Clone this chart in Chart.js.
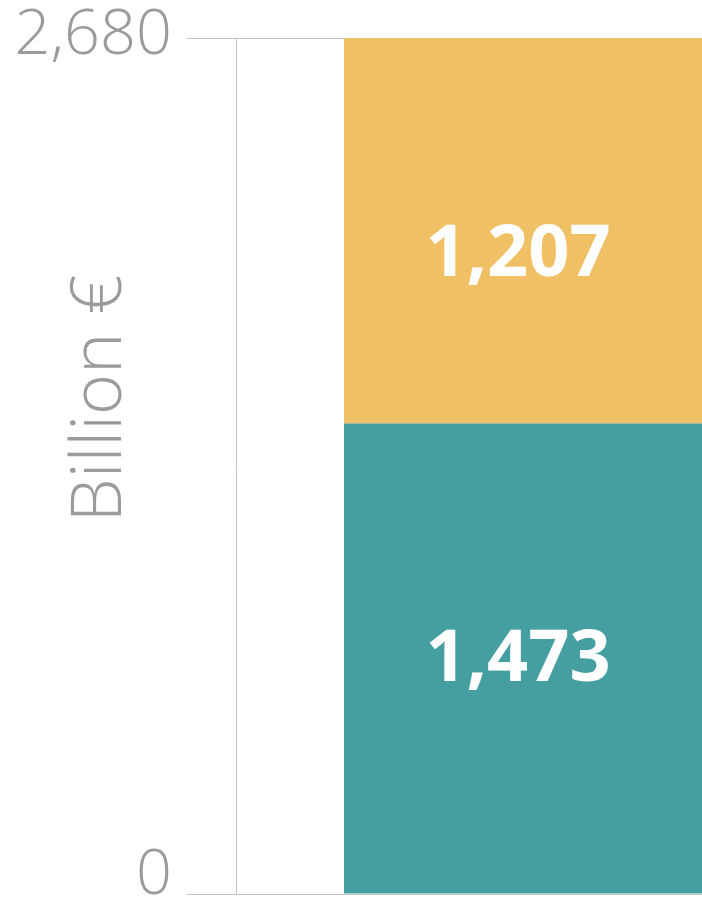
<!DOCTYPE html>
<html><head><meta charset="utf-8">
<script src="https://cdn.jsdelivr.net/npm/chart.js@4/dist/chart.umd.min.js"></script>
<style>
html,body{margin:0;padding:0;background:#fff;overflow:hidden;}
#wrap{width:1100px;height:900px;position:relative;}
</style></head><body>
<div id="wrap"><canvas id="c"></canvas></div>
<script>
// ---- data ----
const categories = ['Total'];
const seriesNames = ['Part 1', 'Part 2'];
const lowerValues = [1473];
const upperValues = [1207];
const yTicks = [0, 2680];
const yAxisTitle = 'Billion €';

// ---- styles ----
const TEAL = '#459EA0';
const YELLOW = '#F0C164';
const GREY_TEXT = '#9b9b9b';
const GRID = '#c4c4c4';
const LABEL_INSET = 174;

const fmt = v => Number(v).toLocaleString('en-US');

const valueLabels = {
  id: 'valueLabels',
  afterDatasetsDraw(chart) {
    const ctx = chart.ctx;
    chart.data.datasets.forEach((ds, di) => {
      const meta = chart.getDatasetMeta(di);
      meta.data.forEach((bar, i) => {
        const p = bar.getProps(['x', 'y', 'base', 'width'], true);
        const left = p.x - p.width / 2;
        ctx.save();
        ctx.font = 'bold 72px "Open Sans"';
        ctx.fillStyle = '#ffffff';
        ctx.textAlign = 'center';
        ctx.textBaseline = 'middle';
        ctx.fillText(fmt(ds.data[i]), left + LABEL_INSET, (p.y + p.base) / 2 + (ds.labelShift || 0));
        ctx.restore();
      });
    });
  }
};

const axisTitle = {
  id: 'axisTitle',
  afterDraw(chart) {
    const s = chart.scales.y;
    const ctx = chart.ctx;
    ctx.save();
    ctx.translate(101.5, s.top + (s.bottom - s.top) * 0.421);
    ctx.rotate(-Math.PI / 2);
    ctx.font = '300 70px "Open Sans"';
    ctx.fillStyle = GREY_TEXT;
    ctx.textAlign = 'center';
    ctx.textBaseline = 'middle';
    ctx.fillText(yAxisTitle, 0, 0);
    ctx.restore();
  }
};

new Chart(document.getElementById('c'), {
  type: 'bar',
  data: {
    labels: categories,
    datasets: [
      { label: seriesNames[0], data: lowerValues, backgroundColor: TEAL, borderWidth: 0, labelShift: 2 },
      { label: seriesNames[1], data: upperValues, backgroundColor: YELLOW, borderWidth: 0, labelShift: 25 }
    ]
  },
  options: {
    responsive: true,
    maintainAspectRatio: false,
    animation: false,
    layout: { padding: 0 },
    datasets: { bar: { barPercentage: 0.75, categoryPercentage: 1 } },
    plugins: { legend: { display: false }, tooltip: { enabled: false } },
    scales: {
      x: { display: false, stacked: true },
      y: {
        stacked: true,
        min: 0,
        max: 2680,
        afterBuildTicks: s => { s.ticks = yTicks.map(v => ({ value: v })); },
        afterFit: s => { s.width = 236; s.paddingTop = 38; s.paddingBottom = 6; },
        grid: { color: GRID, lineWidth: 1, tickLength: 49, drawTicks: true },
        border: { display: true, color: GRID, width: 1 },
        ticks: {
          padding: 15,
          color: GREY_TEXT,
          callback: v => [fmt(v), ''],
          font: ctx => ({ family: '"Open Sans"', size: 63, weight: 300, lineHeight: (ctx.tick && ctx.tick.value === 0) ? '36px' : '4px' })
        },
        title: { display: false }
      }
    }
  },
  plugins: [valueLabels, axisTitle]
});
</script>
</body></html>
